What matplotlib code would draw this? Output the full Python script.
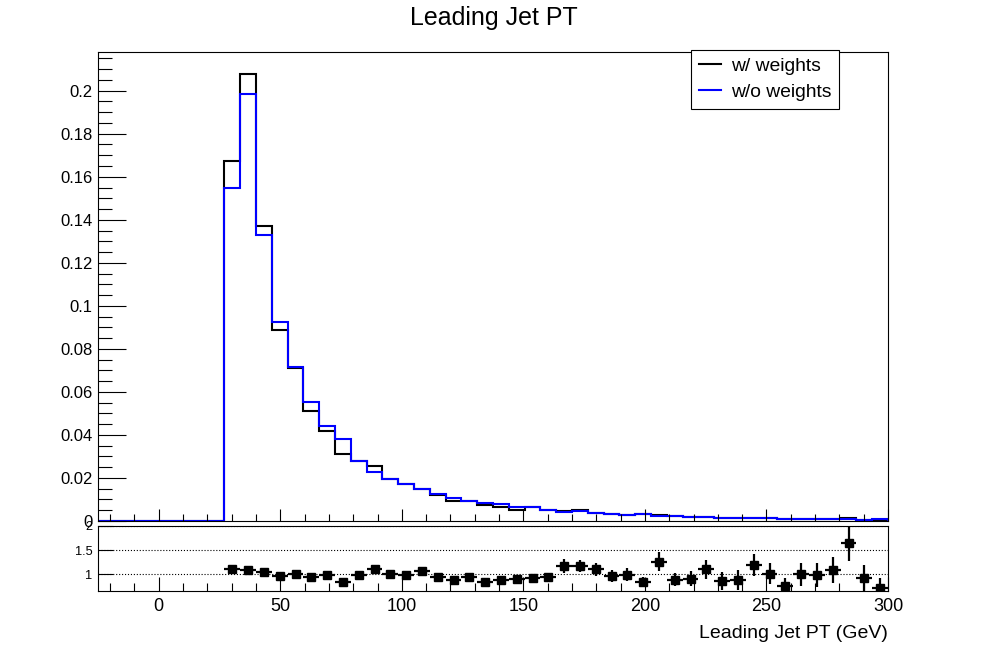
import numpy as np
import matplotlib
matplotlib.use("Agg")
import matplotlib.pyplot as plt
from matplotlib.ticker import MultipleLocator, FuncFormatter

plt.rcParams['font.family'] = ['Liberation Sans', 'DejaVu Sans']

# 50 bins from -25 to 300 (width 6.5)
x_lo, x_hi, n_bins = -25.0, 300.0, 50

# w/ weights (black), first 8 bins empty
w_weights = [0.0] * 8 + [
    0.1671, 0.2076, 0.1369, 0.0886, 0.0710, 0.0513, 0.0420, 0.0312, 0.0279, 0.0257,
    0.0197, 0.0171, 0.0150, 0.0119, 0.0092, 0.0095, 0.0075, 0.0067, 0.0053, 0.0063,
    0.0050, 0.0046, 0.0053, 0.0036, 0.0032, 0.0027, 0.0031, 0.0028, 0.0025, 0.0018,
    0.0018, 0.0013, 0.0014, 0.0012, 0.0012, 0.0008, 0.0009, 0.0007, 0.0007, 0.0013,
    0.0006, 0.0003]

# w/o weights (blue)
wo_weights = [0.0] * 8 + [
    0.1547, 0.1986, 0.1329, 0.0927, 0.0718, 0.0554, 0.0442, 0.0379, 0.0279, 0.0229,
    0.0197, 0.0171, 0.0150, 0.0127, 0.0109, 0.0094, 0.0085, 0.0077, 0.0064, 0.0063,
    0.0053, 0.0041, 0.0046, 0.0036, 0.0032, 0.0027, 0.0031, 0.0022, 0.0025, 0.0018,
    0.0017, 0.0016, 0.0014, 0.0012, 0.0012, 0.0010, 0.0009, 0.0007, 0.0007, 0.0007,
    0.0006, 0.0007]

# ratio points for bins 8..49
ratio = [1.104, 1.083, 1.055, 0.965, 1.013, 0.944, 0.972, 0.846, 0.990, 1.117,
         1.013, 0.990, 1.069, 0.944, 0.875, 0.951, 0.840, 0.888, 0.909, 0.916,
         0.951, 1.166, 1.173, 1.097, 0.965, 0.990, 0.846, 1.256, 0.881, 0.909,
         1.104, 0.860, 0.881, 1.187, 1.013, 0.750, 1.000, 0.979, 1.076, 1.640,
         0.916, 0.720]
ratio_err = [0.010, 0.010, 0.012, 0.015, 0.018, 0.020, 0.022, 0.025, 0.027, 0.030,
             0.032, 0.035, 0.038, 0.042, 0.050, 0.055, 0.060, 0.065, 0.070, 0.075,
             0.080, 0.140, 0.130, 0.130, 0.120, 0.140, 0.100, 0.200, 0.135, 0.150,
             0.200, 0.180, 0.200, 0.230, 0.220, 0.180, 0.240, 0.250, 0.270, 0.375,
             0.270, 0.200]
first_ratio_bin = 8

edges = np.linspace(x_lo, x_hi, n_bins + 1)
centers = 0.5 * (edges[1:] + edges[:-1])
half_w = 0.5 * (edges[1] - edges[0])

W, H = 987, 658
fig = plt.figure(figsize=(W / 100, H / 100), dpi=100)
fig.patch.set_facecolor('white')

def box(l, t, r, b):
    return [l / W, 1 - b / H, (r - l) / W, (b - t) / H]

ax = fig.add_axes(box(98, 52, 888, 521))
ax2 = fig.add_axes(box(98, 526, 888, 591))

# main pad
ax.stairs(w_weights, edges, color='black', lw=1.5)
ax.stairs(wo_weights, edges, color='#0000ff', lw=1.5)
ax.set_xlim(x_lo, x_hi)
ax.set_ylim(0, 1.05 * max(max(w_weights), max(wo_weights)))
ax.yaxis.set_major_locator(MultipleLocator(0.02))
ax.yaxis.set_minor_locator(MultipleLocator(0.005))
ax.xaxis.set_major_locator(MultipleLocator(50))
ax.xaxis.set_minor_locator(MultipleLocator(10))
ax.yaxis.set_major_formatter(FuncFormatter(lambda v, p: '%g' % round(v, 4)))
ax.tick_params(axis='y', which='major', direction='in', length=20, width=0.8,
               labelsize=12, pad=4)
ax.tick_params(axis='y', which='minor', direction='in', length=10, width=0.8)
ax.tick_params(axis='x', which='major', direction='in', length=9, width=0.8,
               labelbottom=False)
ax.tick_params(axis='x', which='minor', direction='in', length=5, width=0.8)
for s in ax.spines.values():
    s.set_linewidth(0.8)

leg = ax.legend(['w/ weights', 'w/o weights'], loc='upper left',
                bbox_to_anchor=(691 / W, 1 - 50 / H), bbox_transform=fig.transFigure,
                borderaxespad=0, fancybox=False, framealpha=1, edgecolor='black',
                fontsize=13.9, handlelength=1.15, handletextpad=0.5,
                labelspacing=0.42, borderpad=0.4)
leg.get_frame().set_linewidth(0.8)
for ln in leg.get_lines():
    ln.set_linewidth(1.5)

# ratio pad
rc = centers[first_ratio_bin:first_ratio_bin + len(ratio)]
ax2.errorbar(rc, ratio, yerr=ratio_err, xerr=half_w, fmt='s', color='black',
             ms=5.8, elinewidth=1.6, capsize=0)
ax2.set_xlim(x_lo, x_hi)
ax2.set_ylim(0.65, 2.0)
ax2.set_yticks([1, 1.5, 2])
ax2.set_yticklabels(['1', '1.5', '2'])
ax2.xaxis.set_major_locator(MultipleLocator(50))
ax2.xaxis.set_minor_locator(MultipleLocator(10))
ax2.grid(axis='y', ls=':', lw=0.8, color='black')
ax2.tick_params(axis='y', which='major', direction='in', length=11, width=0.8,
                labelsize=9.2, pad=4)
ax2.tick_params(axis='x', which='major', direction='in', length=10, width=0.8,
                labelsize=13, pad=5)
ax2.tick_params(axis='x', which='minor', direction='in', length=5.5, width=0.8)
for s in ax2.spines.values():
    s.set_linewidth(0.8)
ax2.set_xlabel('Leading Jet PT (GeV)', fontsize=14, ha='right', va='center')
ax2.xaxis.set_label_coords(1.0, -0.66)

fig.text(0.5, 1 - 18 / H, 'Leading Jet PT', ha='center', va='center', fontsize=18)

fig.savefig('out.png', dpi=100)
